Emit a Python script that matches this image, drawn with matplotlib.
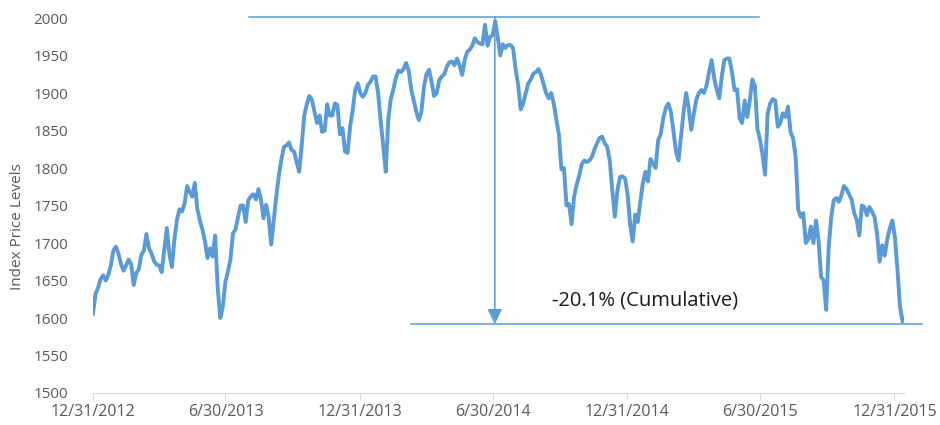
import pandas as pd
import matplotlib.pyplot as plt

plt.rcParams['font.family'] = ['Open Sans', 'DejaVu Sans']

# index levels, twice a week, 12/31/2012 .. 1/11/2016
index_level = [
    1606, 1632, 1640, 1652, 1657, 1650, 1657, 1670, 1690, 1695,
    1686, 1672, 1663, 1670, 1678, 1672, 1644, 1660, 1665, 1684,
    1690, 1712, 1693, 1686, 1676, 1671, 1670, 1661, 1690, 1720,
    1685, 1668, 1705, 1731, 1745, 1742, 1753, 1776, 1768, 1762,
    1780, 1745, 1730, 1718, 1702, 1680, 1693, 1682, 1710, 1640,
    1600, 1615, 1648, 1662, 1678, 1713, 1718, 1735, 1750, 1750,
    1728, 1757, 1762, 1765, 1758, 1772, 1758, 1733, 1751, 1735,
    1698, 1730, 1762, 1790, 1811, 1828, 1830, 1834, 1824, 1822,
    1808, 1795, 1831, 1870, 1885, 1896, 1891, 1875, 1860, 1870,
    1848, 1850, 1885, 1870, 1870, 1886, 1884, 1845, 1853, 1822,
    1820, 1855, 1877, 1904, 1913, 1900, 1895, 1900, 1911, 1915,
    1922, 1922, 1900, 1863, 1830, 1795, 1865, 1892, 1905, 1920,
    1930, 1928, 1932, 1940, 1930, 1905, 1890, 1875, 1864, 1875,
    1908, 1925, 1931, 1915, 1896, 1900, 1917, 1922, 1925, 1935,
    1941, 1942, 1937, 1946, 1937, 1924, 1944, 1955, 1958, 1963,
    1973, 1968, 1966, 1965, 1991, 1963, 1975, 1977, 1996, 1974,
    1950, 1965, 1960, 1964, 1964, 1960, 1932, 1911, 1878, 1886,
    1900, 1913, 1918, 1926, 1928, 1932, 1924, 1912, 1900, 1893,
    1900, 1886, 1865, 1845, 1798, 1800, 1750, 1752, 1725, 1762,
    1778, 1790, 1805, 1810, 1808, 1810, 1815, 1825, 1833, 1840,
    1842, 1833, 1828, 1810, 1770, 1735, 1770, 1788, 1789, 1786,
    1765, 1725, 1702, 1738, 1728, 1755, 1780, 1795, 1782, 1812,
    1806, 1800, 1837, 1845, 1866, 1880, 1886, 1875, 1850, 1822,
    1810, 1842, 1875, 1900, 1880, 1851, 1872, 1891, 1900, 1904,
    1900, 1910, 1928, 1944, 1920, 1905, 1893, 1922, 1944, 1946,
    1946, 1928, 1904, 1905, 1866, 1860, 1890, 1868, 1890, 1918,
    1910, 1852, 1838, 1818, 1791, 1872, 1886, 1892, 1890, 1855,
    1860, 1873, 1868, 1882, 1848, 1840, 1815, 1745, 1735, 1740,
    1700, 1705, 1722, 1700, 1730, 1704, 1655, 1650, 1611, 1695,
    1735, 1757, 1760, 1755, 1764, 1776, 1772, 1765, 1758, 1740,
    1731, 1710, 1750, 1748, 1737, 1748, 1742, 1735, 1712, 1675,
    1697, 1683, 1705, 1720, 1730, 1708, 1665, 1615, 1596,
]
dates = pd.date_range('2012-12-31', '2016-01-11', periods=len(index_level))

tick_dates = pd.to_datetime(['2012-12-31', '2013-06-30', '2013-12-31', '2014-06-30',
                             '2014-12-31', '2015-06-30', '2015-12-31'])
tick_labels = ['12/31/2012', '6/30/2013', '12/31/2013', '6/30/2014',
               '12/31/2014', '6/30/2015', '12/31/2015']

# drawdown annotation
peak_level = 2002
trough_level = 1592
peak_date = pd.Timestamp('2014-07-03')
top_line = pd.to_datetime(['2013-08-01', '2015-06-29'])
bottom_line = pd.to_datetime(['2014-03-11', '2016-02-06'])
note_text = '-20.1% (Cumulative)'

blue = '#5B9BD5'
grey = '#595959'

fig = plt.figure(figsize=(9.4, 4.25), dpi=100)
ax = fig.add_axes([0.0989, 0.0753, 0.8628, 0.8823])

ax.plot(dates, index_level, color=blue, lw=2.8, solid_joinstyle='round')

ax.plot(top_line, [peak_level, peak_level], color=blue, lw=1.1, clip_on=False)
ax.plot(bottom_line, [trough_level, trough_level], color=blue, lw=1.1, clip_on=False)
ax.annotate('', xy=(peak_date, trough_level), xytext=(peak_date, peak_level),
            arrowprops=dict(arrowstyle='-|>,head_length=0.9,head_width=0.45',
                            color=blue, lw=1.1, mutation_scale=10,
                            shrinkA=0, shrinkB=0))
ax.text(pd.Timestamp('2015-01-24'), 1624, note_text, fontsize=14.5,
        color='#1a1a1a', ha='center', va='center')

ax.set_ylim(1500, 2000)
ax.set_yticks(range(1500, 2001, 50))
ax.set_xlim(pd.Timestamp('2012-12-31'), pd.Timestamp('2016-01-13'))
ax.set_xticks(tick_dates)
ax.set_xticklabels(tick_labels)

for s in ['top', 'right', 'left']:
    ax.spines[s].set_visible(False)
ax.spines['bottom'].set_color('#d9d9d9')
ax.tick_params(axis='y', length=0, pad=18, labelsize=11, labelcolor=grey)
ax.tick_params(axis='x', length=5, color='#d9d9d9', labelsize=11.5,
               labelcolor=grey, pad=3)

fig.text(0.019, 0.466, 'Index Price Levels', rotation=90, ha='center',
         va='center', fontsize=11, color=grey)

plt.savefig('out.png', dpi=100)
